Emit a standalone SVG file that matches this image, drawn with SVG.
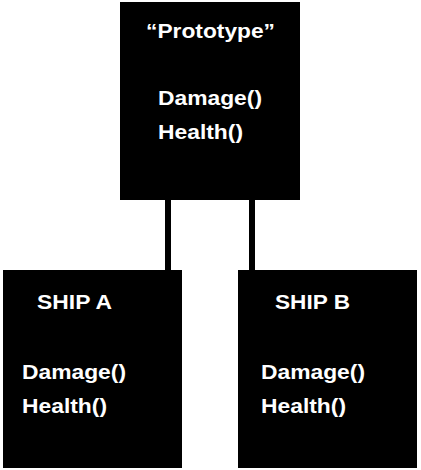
<svg xmlns="http://www.w3.org/2000/svg" width="421" height="470" viewBox="0 0 421 470">
  <style>
    .box { fill: #000; }
    .label { fill: #fff; font-family: "Liberation Sans", Arial, sans-serif; font-weight: bold; font-size: 20px; }
    .link { stroke: #000; stroke-width: 6; fill: none; }
  </style>
  <rect width="421" height="470" fill="#fff"/>
  <g id="connectors">
    <line class="link" x1="168" y1="200" x2="168" y2="270"/>
    <line class="link" x1="252" y1="200" x2="252" y2="270"/>
  </g>
  <g id="prototype">
    <rect class="box" x="120" y="2" width="180" height="198"/>
    <text class="label" x="146" y="38" textLength="129" lengthAdjust="spacingAndGlyphs">“Prototype”</text>
    <text class="label" x="158" y="105" textLength="104" lengthAdjust="spacingAndGlyphs">Damage()</text>
    <text class="label" x="158" y="139" textLength="85" lengthAdjust="spacingAndGlyphs">Health()</text>
  </g>
  <g id="ship-a">
    <rect class="box" x="3" y="270" width="179" height="198"/>
    <text class="label" x="37" y="309" textLength="75" lengthAdjust="spacingAndGlyphs">SHIP A</text>
    <text class="label" x="22" y="379" textLength="104" lengthAdjust="spacingAndGlyphs">Damage()</text>
    <text class="label" x="22" y="413" textLength="85" lengthAdjust="spacingAndGlyphs">Health()</text>
  </g>
  <g id="ship-b">
    <rect class="box" x="238" y="270" width="179" height="198"/>
    <text class="label" x="275" y="309" textLength="75" lengthAdjust="spacingAndGlyphs">SHIP B</text>
    <text class="label" x="261" y="379" textLength="104" lengthAdjust="spacingAndGlyphs">Damage()</text>
    <text class="label" x="261" y="413" textLength="85" lengthAdjust="spacingAndGlyphs">Health()</text>
  </g>
</svg>
